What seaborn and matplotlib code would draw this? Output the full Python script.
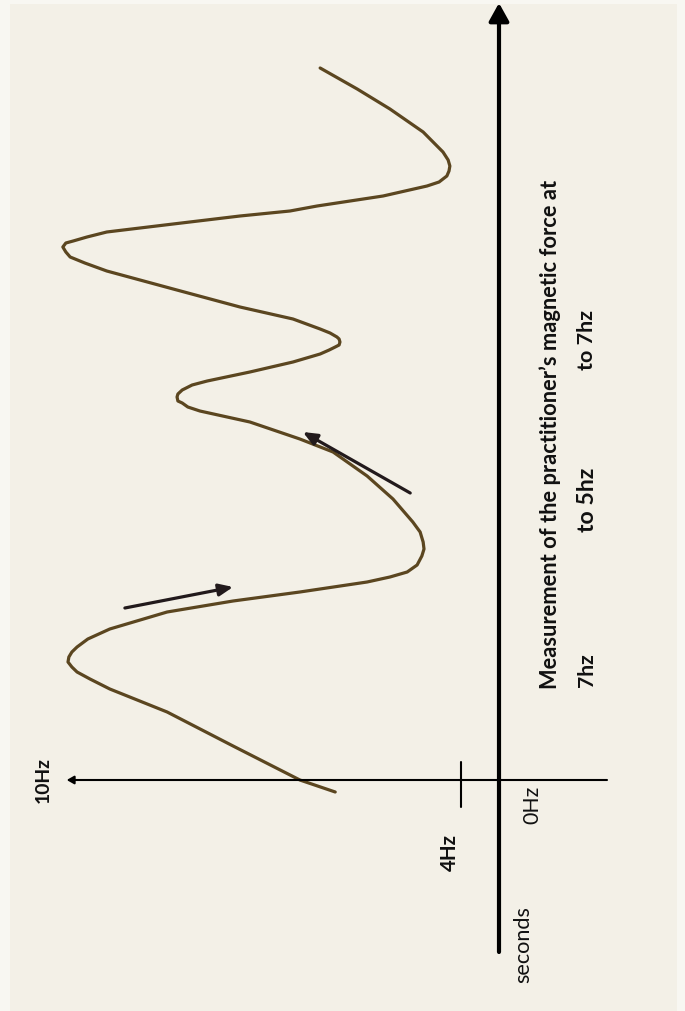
import matplotlib
matplotlib.use("Agg")
import matplotlib.pyplot as plt
from matplotlib.patches import Rectangle
import seaborn as sns
import pandas as pd

# ---------------- data ----------------
# time (s, arbitrary units) along the drawn trace and the matching frequency value
curve_t = [-0.12, 0.00, 0.34, 0.68, 0.91, 1.01, 1.08, 1.13, 1.18, 1.23, 1.28, 1.33,
           1.41, 1.51, 1.68, 1.79, 1.88, 1.98, 2.03, 2.08, 2.15, 2.24, 2.31, 2.38,
           2.48, 2.58, 2.81, 3.04, 3.28, 3.41, 3.58, 3.69, 3.73, 3.77, 3.79, 3.83,
           3.86, 3.90, 3.95, 3.99, 4.08, 4.18, 4.26, 4.30, 4.33, 4.35, 4.38, 4.41,
           4.43, 4.47, 4.51, 4.61, 4.73, 4.91, 5.09, 5.17, 5.23, 5.28, 5.33, 5.37,
           5.39, 5.43, 5.48, 5.56, 5.64, 5.69, 5.74, 5.84, 5.94, 5.98, 6.04, 6.09,
           6.14, 6.20, 6.28, 6.48, 6.71, 6.91, 7.12]
curve_hz = [3.80, 4.62, 6.17, 7.70, 9.03, 9.49, 9.79, 9.91, 10.00, 9.98, 9.91, 9.79,
            9.54, 9.03, 7.70, 6.17, 4.62, 3.06, 2.53, 2.13, 1.90, 1.79, 1.74, 1.76,
            1.83, 2.00, 2.46, 3.06, 3.85, 4.62, 5.78, 6.94, 7.22, 7.35, 7.45, 7.47,
            7.45, 7.35, 7.12, 6.77, 5.78, 4.78, 4.15, 3.94, 3.80, 3.71, 3.69, 3.71,
            3.76, 3.92, 4.15, 4.78, 6.01, 7.56, 9.10, 9.61, 9.95, 10.05, 10.12, 10.05,
            9.88, 9.56, 9.10, 7.56, 6.01, 4.85, 4.22, 2.69, 1.67, 1.39, 1.21, 1.16,
            1.14, 1.18, 1.30, 1.76, 2.53, 3.29, 4.15]

freq_tick_labels = ["10Hz", "4Hz", "0Hz"]
freq_tick_pos = [10.0, 0.88, 0.0]
time_label = "seconds"

caption_line1 = "Measurement of the practitioner\u2019s magnetic force at"
caption_line2 = ["7hz", "to 5hz", "to 7hz"]

# direction arrows drawn next to the trace: (hz, t) tail -> head
arrow_tails = [(8.68, 1.72), (2.06, 2.87)]
arrow_heads = [(6.17, 1.93), (4.55, 3.48)]

# ---------------- figure ----------------
W, H, DPI = 685, 1012, 100
sns.set_theme(style="white")
plt.rcParams["font.family"] = ["Lato", "DejaVu Sans"]

fig = plt.figure(figsize=(W / DPI, H / DPI), dpi=DPI, facecolor="#f8f7f2")
fig.patches.append(Rectangle((10 / W, 0), (W - 18) / W, (H - 5) / H,
                             transform=fig.transFigure, facecolor="#f3f0e7",
                             edgecolor="none", zorder=-1))
ax = fig.add_axes([0, 0, 1, 1])
ax.set_facecolor("none")

# pixel mapping: x_pix = 499 - 43.1*hz ; y_pix = 781 - 100*t
X0, SX, Y0, SY = 499.0, 43.1, 781.0, 100.0
ax.set_xlim(X0 / SX, (X0 - W) / SX)          # frequency grows to the left
ax.set_ylim((Y0 - H) / SY, Y0 / SY)          # time grows upward
ax.set_axis_off()

def px_to_data(xp, yp):
    return (X0 - xp) / SX, (Y0 - yp) / SY

# the trace
df = pd.DataFrame({"hz": curve_hz, "t": curve_t})
sns.lineplot(data=df, x="hz", y="t", sort=False, estimator=None, ax=ax,
             color="#5b4620", linewidth=2.3, solid_capstyle="round",
             solid_joinstyle="round", zorder=3)

# time axis (thick, with arrow at top)
t_bot = px_to_data(0, 953)[1]
t_top = px_to_data(0, 4)[1]
ax.annotate("", xy=(0, t_top), xytext=(0, t_bot),
            arrowprops=dict(arrowstyle="-|>,head_length=0.9,head_width=0.5",
                            color="black", lw=3.0, shrinkA=0, shrinkB=0), zorder=4)

# frequency axis (thin, small head at 10Hz end)
hz_right = px_to_data(607, 0)[0]
ax.annotate("", xy=(freq_tick_pos[0] + 0.03, 0), xytext=(hz_right, 0),
            arrowprops=dict(arrowstyle="-|>,head_length=0.35,head_width=0.2",
                            color="black", lw=1.5, shrinkA=0, shrinkB=0), zorder=4)

# 4Hz tick mark
tk_lo = px_to_data(0, 808)[1]
tk_hi = px_to_data(0, 763)[1]
ax.plot([freq_tick_pos[1], freq_tick_pos[1]], [tk_lo, tk_hi], color="black", lw=1.5, zorder=4)

# direction arrows
for (tx, ty), (hx, hy) in zip(arrow_tails, arrow_heads):
    ax.annotate("", xy=(hx, hy), xytext=(tx, ty),
                arrowprops=dict(arrowstyle="-|>,head_length=0.7,head_width=0.3",
                                color="#221a1c", lw=2.3, shrinkA=0, shrinkB=0), zorder=5)

renderer = fig.canvas.get_renderer()

def fit_text(xp, yp, s, length_px, weight="normal", color="#111111"):
    x, y = px_to_data(xp, yp)
    txt = ax.text(x, y, s, rotation=90, ha="center", va="center",
                  fontsize=12, fontweight=weight, color=color, zorder=6)
    for _ in range(3):
        ext = txt.get_window_extent(renderer=renderer)
        txt.set_fontsize(txt.get_fontsize() * length_px / ext.height)
    return txt

# axis labels
fit_text(43, 780, freq_tick_labels[0], 46, weight="bold")
fit_text(450, 853, freq_tick_labels[1], 37, weight="bold")
fit_text(532, 805, freq_tick_labels[2], 38)
fit_text(523, 945, time_label, 77)

# caption
fit_text(550, 434, caption_line1, 508, weight="bold")
fit_text(587, 670, caption_line2[0], 34, weight="bold")
fit_text(587, 500, caption_line2[1], 64, weight="bold")
fit_text(587, 340, caption_line2[2], 60, weight="bold")

fig.savefig("out.png", dpi=DPI, facecolor=fig.get_facecolor())
